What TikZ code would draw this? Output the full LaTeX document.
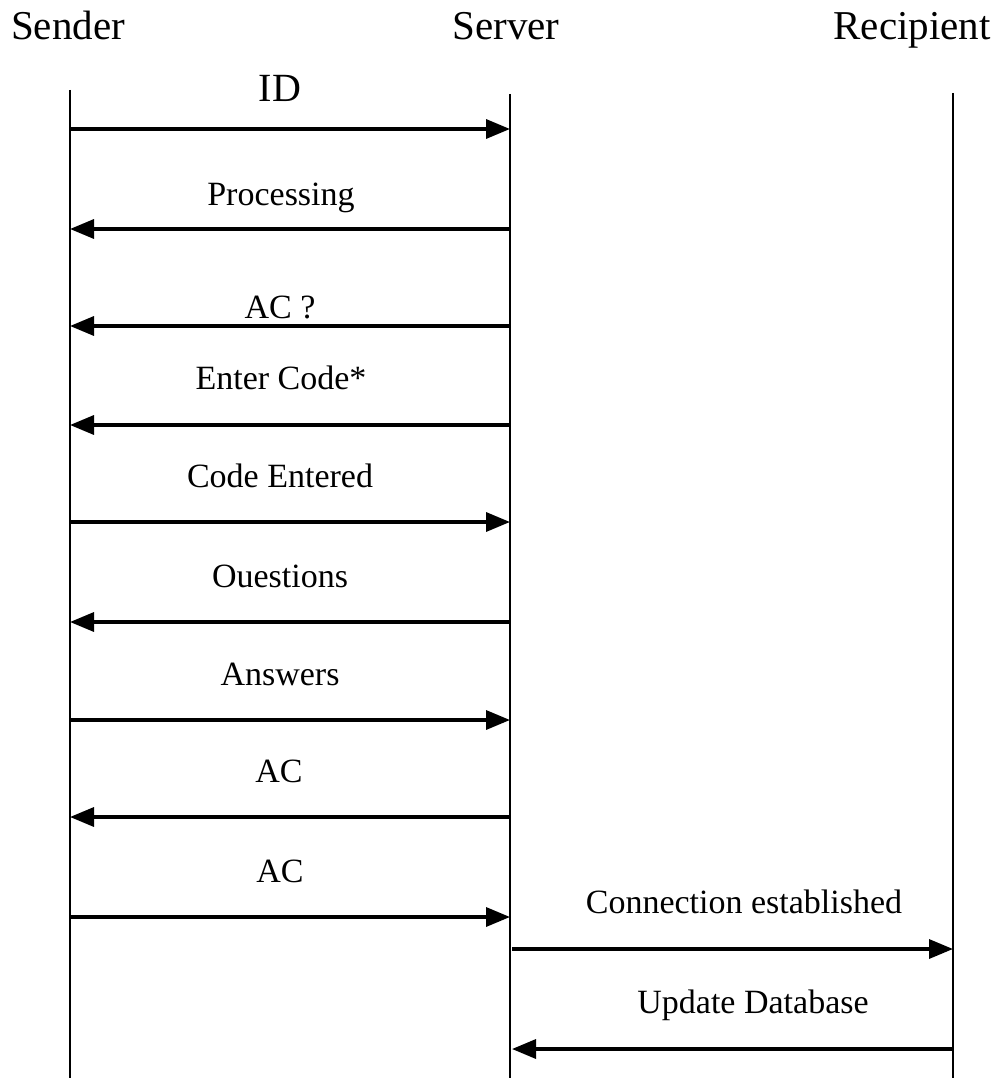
\documentclass[tikz,border=0pt]{standalone}
\usepackage{fontspec}
\setmainfont{Liberation Serif}
\usetikzlibrary{arrows.meta}
\begin{document}
\begin{tikzpicture}[x=1pt,y=-1pt,
  lifeline/.style={line width=2pt},
  msg/.style={line width=3.4pt,-{Triangle[length=24pt,width=19pt]}},
  actor/.style={font=\fontsize{41}{48}\selectfont, inner sep=0, anchor=base},
  lbl/.style={font=\fontsize{34}{40}\selectfont, inner sep=0, anchor=base}]
\useasboundingbox (0,0) rectangle (1000,1078);

% participants
\node[actor] (sender) at (68,40) {Sender};
\node[actor] (server) at (506,40) {Server};
\node[actor] (recipient) at (912,40) {Recipient};

% lifelines
\coordinate (sTop) at (70,90);   \coordinate (sBot) at (70,1078);
\coordinate (vTop) at (510,94);  \coordinate (vBot) at (510,1078);
\coordinate (rTop) at (953,93);  \coordinate (rBot) at (953,1078);
\draw[lifeline] (sTop) -- (sBot);
\draw[lifeline] (vTop) -- (vBot);
\draw[lifeline] (rTop) -- (rBot);

% message anchor points on the lifelines
\foreach \n/\y in {1/129,2/229,3/326,4/425,5/522,6/622,7/720,8/817,9/917}{
  \coordinate (s\n) at (70,\y);
  \coordinate (v\n) at (510,\y);
}
\coordinate (v10) at (512,949);  \coordinate (r10) at (953,949);
\coordinate (v11) at (512,1049); \coordinate (r11) at (953,1049);

% sender <-> server
\draw[msg] (s1) -- (v1);
\node[font=\fontsize{40}{46}\selectfont, inner sep=0, anchor=base] (mID) at (280,102) {ID};
\draw[msg] (v2) -- (s2);
\node[lbl] (mProc) at (281,205) {Processing};
\draw[msg] (v3) -- (s3);
\node[lbl] (mAC1) at (280,318) {AC ?};
\draw[msg] (v4) -- (s4);
\node[lbl] (mEnter) at (281,389) {Enter Code*};
\draw[msg] (s5) -- (v5);
\node[lbl] (mEntered) at (280,487) {Code Entered};
\draw[msg] (v6) -- (s6);
\node[lbl] (mQ) at (280,587) {Ouestions};
\draw[msg] (s7) -- (v7);
\node[lbl] (mAns) at (280,685) {Answers};
\draw[msg] (v8) -- (s8);
\node[lbl] (mAC2) at (279,782) {AC};
\draw[msg] (s9) -- (v9);
\node[lbl] (mAC3) at (280,882) {AC};

% server <-> recipient
\draw[msg] (v10) -- (r10);
\node[lbl] (mConn) at (744,913) {Connection established};
\draw[msg] (r11) -- (v11);
\node[lbl] (mUpd) at (753,1013) {Update Database};
\end{tikzpicture}
\end{document}
